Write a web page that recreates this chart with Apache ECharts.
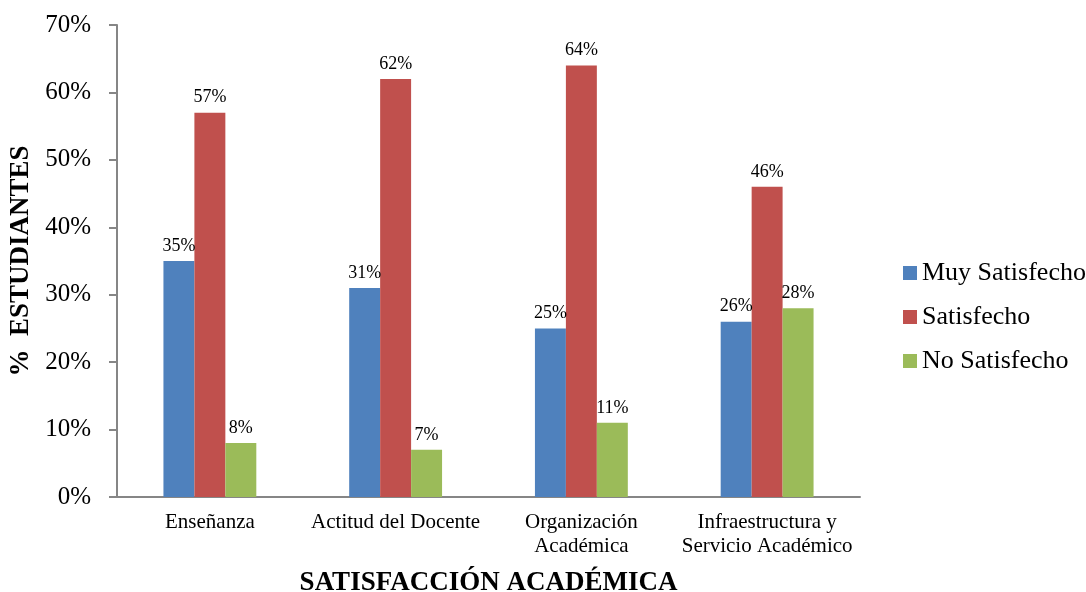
<!DOCTYPE html>
<html><head><meta charset="utf-8">
<script src="https://cdn.jsdelivr.net/npm/echarts@6/dist/echarts.min.js"></script>
<style>html,body{margin:0;padding:0;background:#fff}#c{width:1086px;height:592px}</style>
</head><body><div id="c"></div>
<script>
var categories = ['Enseñanza', 'Actitud del Docente', 'Organización\nAcadémica', 'Infraestructura y\nServicio Académico'];
var muySatisfecho = [35, 31, 25, 26];
var satisfecho = [57, 62, 64, 46];
var noSatisfecho = [8, 7, 11, 28];
var seriesNames = ['Muy Satisfecho', 'Satisfecho', 'No Satisfecho'];
var colors = ['#4F81BD', '#C0504D', '#9BBB59'];
var F = '"Liberation Serif", "Times New Roman", serif';

var chart = echarts.init(document.getElementById('c'), null, {renderer: 'canvas'});
function mk(name, data, color) {
  return {
    name: name, type: 'bar', data: data, barGap: '0%', barCategoryGap: '50%',
    itemStyle: {color: color},
    label: {show: true, position: 'top', distance: 6, formatter: '{c}%', fontFamily: F, fontSize: 18, color: '#000'}
  };
}
chart.setOption({
  animation: false,
  textStyle: {fontFamily: F},
  grid: {left: 117, right: 226, top: 25, bottom: 95, containLabel: false, outerBoundsMode: 'none'},
  legend: {
    orient: 'vertical', left: 898, top: 255, itemWidth: 14, itemHeight: 14, itemGap: 18, icon: 'rect',
    textStyle: {fontFamily: F, fontSize: 26, lineHeight: 26, color: '#000'},
    data: seriesNames
  },
  xAxis: {
    type: 'category', data: categories,
    axisLine: {lineStyle: {color: '#868686', width: 2}},
    axisTick: {show: false},
    axisLabel: {fontFamily: F, fontSize: 21, color: '#000', margin: 13, lineHeight: 24, interval: 0},
    name: 'SATISFACCIÓN ACADÉMICA', nameLocation: 'middle', nameGap: 73,
    nameTextStyle: {fontFamily: F, fontSize: 27, fontWeight: 'bold', color: '#000'}
  },
  yAxis: {
    type: 'value', min: 0, max: 70, interval: 10,
    axisLine: {show: true, lineStyle: {color: '#868686', width: 2}},
    axisTick: {show: true, length: 8, inside: false, lineStyle: {color: '#868686', width: 2}},
    splitLine: {show: false},
    axisLabel: {formatter: '{value}%', fontFamily: F, fontSize: 25, color: '#000', margin: 26},
    name: '%  ESTUDIANTES', nameLocation: 'middle', nameGap: 76, nameRotate: 90,
    nameTextStyle: {fontFamily: F, fontSize: 27, fontWeight: 'bold', color: '#000'}
  },
  series: [
    mk(seriesNames[0], muySatisfecho, colors[0]),
    mk(seriesNames[1], satisfecho, colors[1]),
    mk(seriesNames[2], noSatisfecho, colors[2])
  ]
});
</script></body></html>
